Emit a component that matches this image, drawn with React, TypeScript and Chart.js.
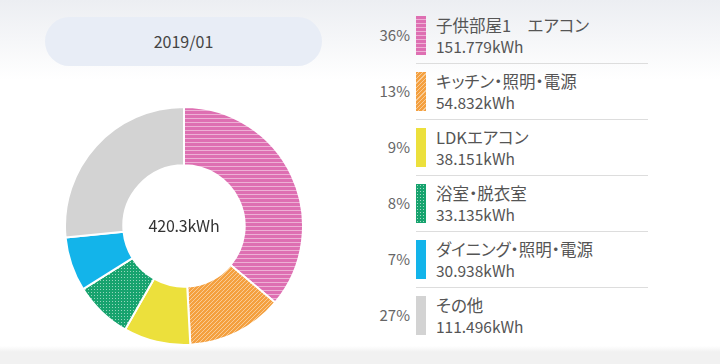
import React, { useEffect, useRef } from "react";
import { Chart, registerables } from "chart.js";

Chart.register(...registerables);

const month = "2019/01";
const totalLabel = "420.3kWh";
const categories = ["子供部屋1　エアコン", "キッチン・照明・電源", "LDKエアコン", "浴室・脱衣室", "ダイニング・照明・電源", "その他"];
const values = [151.779, 54.832, 38.151, 33.135, 30.938, 111.496];
const percents = ["36%", "13%", "9%", "8%", "7%", "27%"];
const valueLabels = ["151.779kWh", "54.832kWh", "38.151kWh", "33.135kWh", "30.938kWh", "111.496kWh"];
const colors = ["#de6fb2", "#f4a03f", "#ece03c", "#17a36e", "#13b4ea", "#d3d3d3"];
const patternKinds = ["hlines", "diag", "none", "dots", "none", "none"];

function makePattern(color: string, kind: string): CanvasPattern | string {
  if (kind === "none") return color;
  const c = document.createElement("canvas");
  const s = kind === "dots" ? 3 : 4;
  c.width = s;
  c.height = s;
  const ctx = c.getContext("2d")!;
  ctx.fillStyle = color;
  ctx.fillRect(0, 0, s, s);
  ctx.fillStyle = "rgba(255,255,255,0.45)";
  if (kind === "hlines") {
    ctx.fillRect(0, 0, s, 1);
  } else if (kind === "dots") {
    ctx.fillStyle = "rgba(255,255,255,0.55)";
    ctx.fillRect(0, 0, 1, 1);
  } else if (kind === "diag") {
    for (let i = 0; i < s; i++) ctx.fillRect(s - 1 - i, i, 1, 1);
  }
  const mainCtx = document.createElement("canvas").getContext("2d")!;
  return mainCtx.createPattern(c, "repeat")!;
}

function cssPattern(color: string, kind: string): string {
  if (kind === "hlines")
    return `repeating-linear-gradient(0deg, ${color} 0px, ${color} 3px, rgba(255,255,255,0.45) 3px, rgba(255,255,255,0.45) 4px), ${color}`;
  if (kind === "diag")
    return `repeating-linear-gradient(-45deg, ${color} 0px, ${color} 2px, rgba(255,255,255,0.45) 2px, rgba(255,255,255,0.45) 3px), ${color}`;
  if (kind === "dots")
    return `radial-gradient(rgba(255,255,255,0.6) 0.6px, transparent 0.8px) 0 0 / 3px 3px, ${color}`;
  return color;
}

const font = '"Noto Sans CJK JP", "Noto Sans", sans-serif';

export default function App() {
  const ref = useRef<HTMLCanvasElement | null>(null);
  useEffect(() => {
    if (!ref.current) return;
    const chart = new Chart(ref.current, {
      type: "doughnut",
      data: {
        labels: categories,
        datasets: [
          {
            data: values,
            backgroundColor: colors.map((c, i) => makePattern(c, patternKinds[i])),
            borderColor: "#ffffff",
            borderWidth: 2,
          },
        ],
      },
      options: {
        responsive: false,
        animation: false,
        cutout: "51%",
        layout: { padding: 0 },
        plugins: { legend: { display: false }, tooltip: { enabled: false } },
      },
    });
    return () => chart.destroy();
  }, []);

  return (
    <div
      style={{
        position: "absolute",
        left: 0,
        top: 0,
        width: 720,
        height: 364,
        overflow: "hidden",
        background: "linear-gradient(180deg, #eceef2 0px, #ffffff 80px, #ffffff 346px, #f1f1f1 352px, #f1f1f1 364px)",
        fontFamily: font,
        fontFeatureSettings: '"palt"',
      }}
    >
      <div
        style={{
          position: "absolute",
          left: 45,
          top: 17,
          width: 277,
          height: 49,
          borderRadius: 25,
          background: "#e8edf6",
          color: "#444",
          fontSize: 16,
          lineHeight: "49px",
          textAlign: "center",
        }}
      >
        {month}
      </div>
      <div style={{ position: "absolute", left: 64, top: 106, width: 240, height: 240 }}>
        <canvas ref={ref} width={240} height={240} style={{ width: 240, height: 240 }} />
        <div
          style={{
            position: "absolute",
            left: 0,
            top: 0,
            width: 240,
            height: 240,
            lineHeight: "238px",
            textAlign: "center",
            fontSize: 16,
            color: "#333",
            letterSpacing: -0.2,
          }}
        >
          {totalLabel}
        </div>
      </div>
      {categories.map((cat, i) => (
        <div key={i} style={{ position: "absolute", left: 360, top: 16 + i * 56, width: 300, height: 56 }}>
          <div
            style={{
              position: "absolute",
              left: 0,
              width: 50,
              top: 8,
              textAlign: "right",
              fontSize: 15,
              color: "#666",
              lineHeight: "22px",
            }}
          >
            {percents[i]}
          </div>
          <div
            style={{
              position: "absolute",
              left: 56,
              top: 0,
              width: 10,
              height: 39,
              background: cssPattern(colors[i], patternKinds[i]),
            }}
          />
          <div
            style={{
              position: "absolute",
              left: 76,
              top: -2,
              fontSize: 16.5,
              color: "#555",
              lineHeight: "22px",
              whiteSpace: "nowrap",
            }}
          >
            {cat}
          </div>
          <div
            style={{
              position: "absolute",
              left: 76,
              top: 20,
              fontSize: 15.5,
              color: "#555",
              lineHeight: "20px",
              whiteSpace: "nowrap",
            }}
          >
            {valueLabels[i]}
          </div>
          {i < categories.length - 1 && (
            <div
              style={{
                position: "absolute",
                left: 56,
                top: 47,
                width: 232,
                height: 1,
                background: "#dddddd",
              }}
            />
          )}
        </div>
      ))}
    </div>
  );
}
